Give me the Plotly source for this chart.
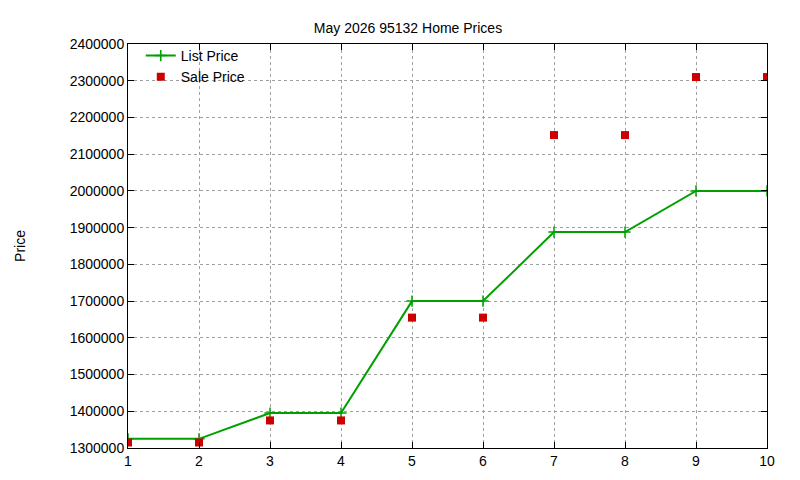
import plotly.graph_objects as go

x = [1, 2, 3, 4, 5, 6, 7, 8, 9, 10]
list_price = [1325000, 1325000, 1395000, 1395000, 1700000, 1700000, 1888000, 1888000, 2000000, 2000000]
sale_price = [1315000, 1315000, 1375000, 1375000, 1655000, 1655000, 2152000, 2152000, 2310000, 2310000]

fig = go.Figure()
fig.add_trace(go.Scatter(
    x=x, y=list_price, name="List Price", mode="lines+markers",
    line=dict(color="#00a000", width=2),
    marker=dict(symbol="cross-thin", size=8, line=dict(color="#00a000", width=1.5)),
))
fig.add_trace(go.Scatter(
    x=x, y=sale_price, name="Sale Price", mode="markers",
    marker=dict(symbol="square", size=8, color="#cc0000"),
))

axis = dict(
    showline=True, linecolor="black", linewidth=1, mirror="ticks",
    ticks="inside", ticklen=6, tickcolor="black",
    showgrid=True, gridcolor="#a0a0a0", griddash="dot", gridwidth=1,
    zeroline=False, tickfont=dict(size=14, color="black"),
)

fig.update_layout(
    width=800, height=480,
    paper_bgcolor="white", plot_bgcolor="white",
    font=dict(family="Liberation Sans, Arial, sans-serif", size=14, color="black"),
    title=dict(text="May 2026 95132 Home Prices", x=0.5, xanchor="center",
               y=0.958, yanchor="middle", font=dict(size=14)),
    margin=dict(l=111, r=41, t=36, b=40),
    showlegend=True,
    legend=dict(x=0.02, y=1.01, xanchor="left", yanchor="top", bgcolor="rgba(0,0,0,0)",
                font=dict(size=14), tracegroupgap=0),
    xaxis=dict(axis, range=[1, 10], dtick=1),
    yaxis=dict(axis, range=[1300000, 2400000], dtick=100000, tickformat="d",
               title=dict(text="Price", standoff=40, font=dict(size=14))),
)

fig.write_html("out.html")
